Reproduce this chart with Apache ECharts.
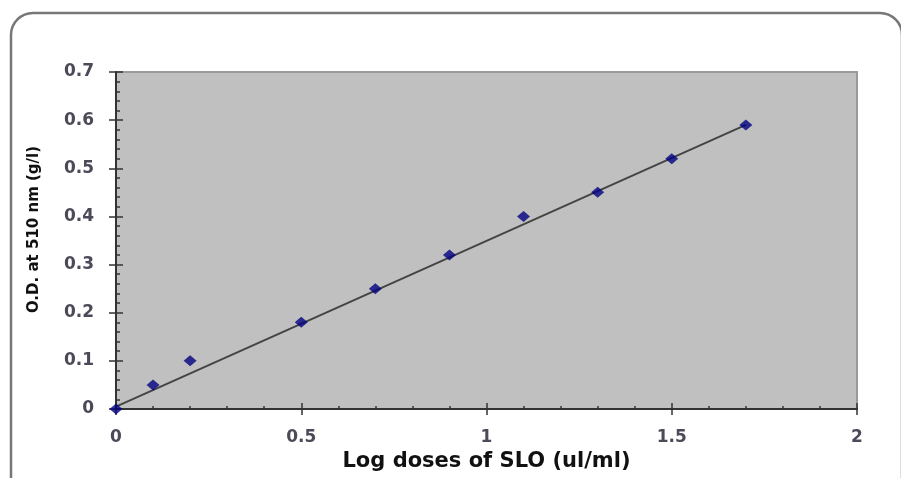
<!DOCTYPE html>
<html>
<head>
<meta charset="utf-8">
<script src="https://cdn.jsdelivr.net/npm/echarts@6/dist/echarts.min.js"></script>
<style>
  html, body { margin: 0; padding: 0; background: #fff; }
  #chart { width: 901px; height: 478px; }
</style>
</head>
<body>
<div id="chart"></div>
<script>
// 数据
var doses = [0, 0.1, 0.2, 0.5, 0.7, 0.9, 1.1, 1.3, 1.5, 1.7];
var od = [0, 0.05, 0.1, 0.18, 0.25, 0.32, 0.40, 0.45, 0.52, 0.59];
// 趋势线两端
var trendX = [0, 1.7];
var trendY = [0.005, 0.59];

var points = doses.map(function (d, i) { return [d, od[i]]; });
var trend = trendX.map(function (d, i) { return [d, trendY[i]]; });

var chart = echarts.init(document.getElementById('chart'));

var tickFont = { fontFamily: 'DejaVu Sans', fontWeight: 'bold', fontSize: 17, color: '#4a4a58' };

var option = {
  animation: false,
  backgroundColor: '#fff',
  grid: {
    left: 116, top: 72, right: 44, bottom: 69,
    show: true,
    backgroundColor: '#c0c0c0',
    borderColor: '#9a9a9a',
    borderWidth: 2
  },
  graphic: [{
    type: 'rect',
    shape: { x: 11, y: 13, width: 891, height: 500, r: 22 },
    style: { fill: 'none', stroke: '#777', lineWidth: 2.5 },
    z: 100
  }],
  xAxis: [{
    type: 'value', min: 0, max: 2, interval: 0.5,
    name: 'Log doses of SLO (ul/ml)',
    nameLocation: 'middle', nameGap: 39,
    nameTextStyle: { fontFamily: 'DejaVu Sans', fontWeight: 'bold', fontSize: 21, color: '#111' },
    axisLine: { show: true, lineStyle: { color: '#333', width: 2 } },
    axisTick: { show: true, inside: false, length: 6, lineStyle: { color: '#333', width: 1.5 } },
    axisLabel: Object.assign({ margin: 20 }, tickFont),
    splitLine: { show: false }
  }, {
    // 内侧刻度
    type: 'value', min: 0, max: 2, interval: 0.5, position: 'bottom',
    axisLine: { show: false },
    axisTick: { show: true, inside: true, length: 6, lineStyle: { color: '#333', width: 1.5 } },
    minorTick: { show: true, splitNumber: 5, length: 3, lineStyle: { color: '#333', width: 1.5 } },
    axisLabel: { show: false },
    splitLine: { show: false }
  }],
  yAxis: [{
    type: 'value', min: 0, max: 0.7, interval: 0.1,
    name: 'O.D. at 510 nm (g/l)',
    nameLocation: 'middle', nameGap: 74,
    nameTextStyle: { fontFamily: 'DejaVu Sans', fontWeight: 'bold', fontSize: 15, color: '#111', padding: [0, 0, 0, 22] },
    axisLine: { show: true, lineStyle: { color: '#333', width: 2 } },
    axisTick: { show: true, inside: false, length: 7, lineStyle: { color: '#333', width: 1.5 } },
    axisLabel: Object.assign({ margin: 22 }, tickFont),
    splitLine: { show: false }
  }, {
    type: 'value', min: 0, max: 0.7, interval: 0.1, position: 'left',
    axisLine: { show: false },
    axisTick: { show: true, inside: true, length: 7, lineStyle: { color: '#333', width: 1.5 } },
    minorTick: { show: true, splitNumber: 5, length: 4, lineStyle: { color: '#333', width: 1.5 } },
    axisLabel: { show: false },
    splitLine: { show: false }
  }],
  series: [{
    name: 'trend',
    type: 'line',
    data: trend,
    symbol: 'none',
    lineStyle: { color: '#444', width: 2 },
    z: 2
  }, {
    name: 'O.D.',
    type: 'scatter',
    data: points,
    symbol: 'diamond',
    symbolSize: [13, 11],
    itemStyle: { color: '#000080' },
    z: 3
  }]
};

chart.setOption(option);
</script>
</body>
</html>
